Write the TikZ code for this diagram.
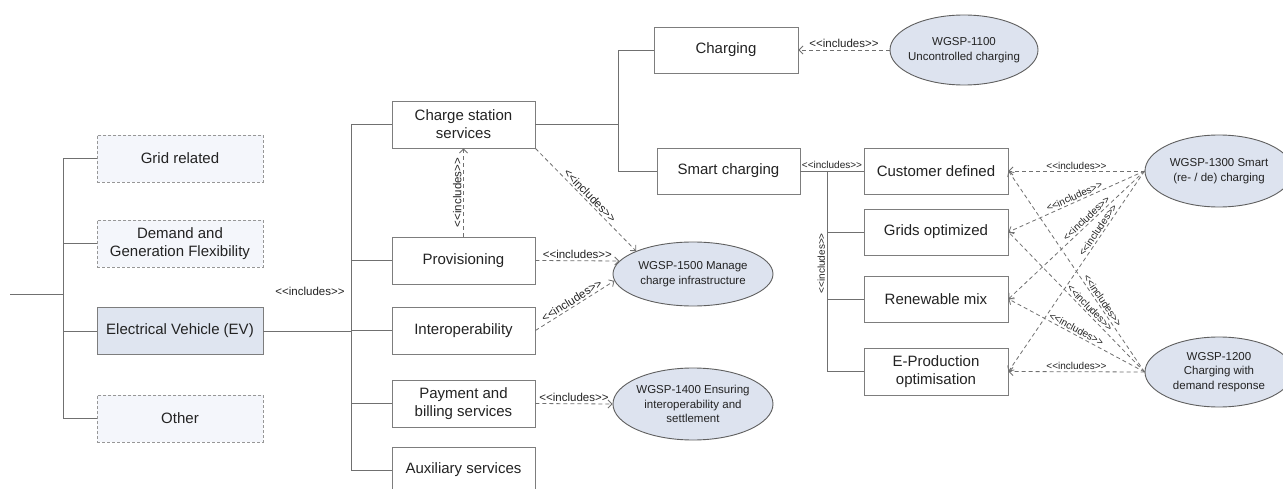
\documentclass[tikz,border=0pt]{standalone}
\usepackage{fontspec}
\setmainfont{Liberation Sans}[Ligatures=TeXOff]
\usepackage{tikz}
\usetikzlibrary{arrows.meta,shapes.geometric}
\definecolor{linegray}{RGB}{112,112,112}
\definecolor{boxgray}{RGB}{125,125,125}
\definecolor{ucline}{RGB}{95,95,95}
\definecolor{ucfill}{RGB}{221,227,239}
\definecolor{evfill}{RGB}{223,229,240}
\definecolor{ghostfill}{RGB}{244,246,251}
\definecolor{txt}{RGB}{35,35,35}
\newcommand{\incl}{<<includes>>}

\tikzset{
	block/.style={draw=boxgray, line width=0.9pt, fill=white, text=txt, align=center,
		minimum width=143pt, minimum height=46pt, inner sep=2pt,
		font=\fontsize{15}{18}\selectfont},
	ghost/.style={block, draw=boxgray!80, dash pattern=on 3pt off 2pt, fill=ghostfill,
		minimum width=166pt, minimum height=47pt},
	usecase/.style={ellipse, draw=ucline, line width=0.9pt, fill=ucfill, text=txt,
		align=center, inner xsep=-10pt, inner ysep=0pt, minimum width=148pt, minimum height=70pt,
		font=\fontsize{11.5}{14.5}\selectfont},
	tree/.style={draw=linegray, line width=0.9pt},
	incl/.style={linegray, line width=0.8pt, dash pattern=on 4pt off 3pt,
		-{Straight Barb[length=4pt,width=8pt]}},
	lbl/.style={font=\fontsize{11.5}{12}\selectfont, text=txt, inner sep=1.5pt},
	lblsmall/.style={lbl, font=\fontsize{10}{11}\selectfont}
}

\begin{document}
\begin{tikzpicture}[x=1pt,y=-1pt]
	\fill[white] (0,0) rectangle (1283,489);
	\useasboundingbox (0,0) rectangle (1283,489);

	% domains
	\node[ghost] (grid) at (180,158.5) {Grid related};
	\node[ghost] (demand) at (180,243.5) {Demand and\\Generation Flexibility};
	\node[block, fill=evfill, minimum width=166pt, minimum height=47pt] (ev) at (180,331) {Electrical Vehicle (EV)};
	\node[ghost] (other) at (180,418.5) {Other};

	% services
	\node[block, minimum height=47pt] (css) at (463.5,124.5) {Charge station\\services};
	\node[block, minimum height=47pt] (prov) at (463.5,260.5) {Provisioning};
	\node[block, minimum height=47pt] (interop) at (463.5,330.5) {Interoperability};
	\node[block, minimum height=47pt] (pay) at (463.5,403.5) {Payment and\\billing services};
	\node[block] (aux) at (463.5,470) {Auxiliary services};

	\node[block, minimum width=144pt] (charging) at (726,50) {Charging};
	\node[block] (smart) at (728.5,171) {Smart charging};

	\node[block, minimum width=144pt] (cust) at (936,171) {Customer defined};
	\node[block, minimum width=144pt] (grids) at (936,232) {Grids optimized};
	\node[block, minimum width=144pt] (renew) at (936,299) {Renewable mix};
	\node[block, minimum width=144pt, minimum height=47pt] (eprod) at (936,371.5) {E-Production\\optimisation};

	% use cases
	\node[usecase] (u1100) at (964,50) {WGSP-1100\\Uncontrolled charging};
	\node[usecase, minimum width=160pt, minimum height=64pt] (u1500) at (693,274) {WGSP-1500 Manage\\charge infrastructure};
	\node[usecase, minimum width=160pt, minimum height=72pt] (u1400) at (693,404) {WGSP-1400 Ensuring\\interoperability and\\settlement};
	\node[usecase, minimum height=72pt] (u1300) at (1219,171) {WGSP-1300 Smart\\(re- / de) charging};
	\node[usecase] (u1200) at (1219,372) {WGSP-1200\\Charging with\\demand response};

	% tree
	\coordinate (root) at (10,294);
	\coordinate (t1) at (63,294);
	\coordinate (t2) at (351,331);
	\coordinate (t3) at (618,124.5);
	\coordinate (t4) at (827,171);
	\draw[tree] (root) -- (t1) (t1) |- (grid.west) (t1) |- (demand.west)
		(t1) |- (ev.west) (t1) |- (other.west);
	\draw[tree] (ev.east) -- (t2) (t2) |- (css.west) (t2) |- (prov.west)
		(t2) |- (interop.west) (t2) |- (pay.west) (t2) |- (aux.west);
	\draw[tree] (css.east) -- (t3) (t3) |- (charging.west) (t3) |- (smart.west);
	\draw[tree] (smart.east) -- node[lblsmall, above] {\incl} (cust.west);
	\draw[tree] (t4) |- node[lblsmall, pos=0.23, rotate=90, anchor=south] {\incl} (eprod.west)
		(t4) |- (grids.west) (t4) |- (renew.west);
	\node[lbl] (inclev) at (310,291) {\incl};

	% includes
	\path[incl]
	(prov.north) edge node [lbl, above, sloped] {\incl} (css.south)
	(css.south east) edge node [lbl, above, sloped] {\incl} (u1500.north west)
	(prov.east) edge node [lbl, above] {\incl} (u1500.170)
	(interop.east) edge node [lbl, above, sloped] {\incl} (u1500.185)
	(pay.east) edge node [lbl, above] {\incl} (u1400.west)
	(u1100.west) edge node [lbl, above] {\incl} (charging.east);
	\path[incl]
	(u1300.west) edge node [lblsmall, above] {\incl} (cust.east)
	(u1300.west) edge node [lblsmall, above, sloped] {\incl} (grids.east)
	(u1300.west) edge node [lblsmall, above, sloped, pos=0.4] {\incl} (renew.east)
	(u1300.west) edge node [lblsmall, above, sloped, pos=0.31] {\incl} (eprod.east)
	(u1200.west) edge node [lblsmall, above, sloped, pos=0.34] {\incl} (cust.east)
	(u1200.west) edge node [lblsmall, above, sloped, pos=0.43] {\incl} (grids.east)
	(u1200.west) edge node [lblsmall, above, sloped, pos=0.52] {\incl} (renew.east)
	(u1200.west) edge node [lblsmall, above] {\incl} (eprod.east);
\end{tikzpicture}
\end{document}
